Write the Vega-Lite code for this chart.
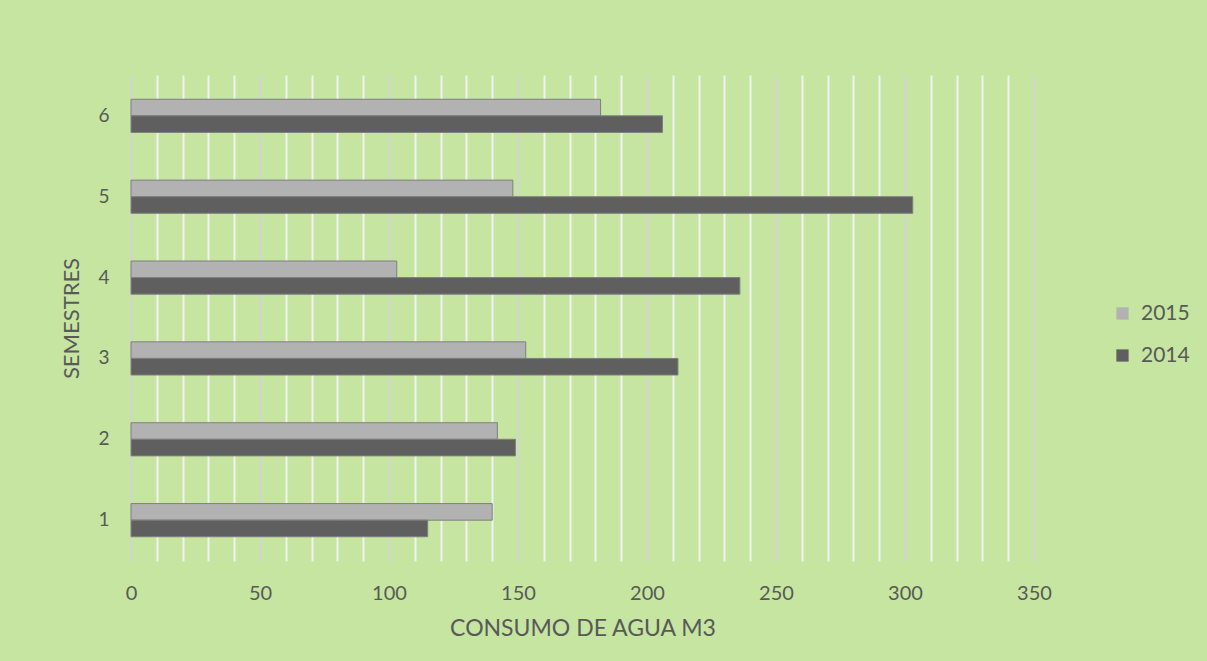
{
  "$schema": "https://vega.github.io/schema/vega-lite/v6.json",
  "width": 903,
  "height": 486,
  "autosize": "none",
  "padding": {"left": 131, "top": 75, "right": 173, "bottom": 100},
  "background": "#C5E5A0",
  "config": {
    "view": {"stroke": null},
    "font": "Lato"
  },
  "data": {
    "values": [
      {"semestre": "1", "anio": "2015", "consumo": 140},
      {"semestre": "1", "anio": "2014", "consumo": 115},
      {"semestre": "2", "anio": "2015", "consumo": 142},
      {"semestre": "2", "anio": "2014", "consumo": 149},
      {"semestre": "3", "anio": "2015", "consumo": 153},
      {"semestre": "3", "anio": "2014", "consumo": 212},
      {"semestre": "4", "anio": "2015", "consumo": 103},
      {"semestre": "4", "anio": "2014", "consumo": 236},
      {"semestre": "5", "anio": "2015", "consumo": 148},
      {"semestre": "5", "anio": "2014", "consumo": 303},
      {"semestre": "6", "anio": "2015", "consumo": 182},
      {"semestre": "6", "anio": "2014", "consumo": 206}
    ]
  },
  "mark": {"type": "bar", "stroke": "#7f7f7f", "strokeWidth": 1},
  "encoding": {
    "y": {
      "field": "semestre",
      "type": "nominal",
      "sort": ["6", "5", "4", "3", "2", "1"],
      "scale": {"paddingInner": 0.59, "paddingOuter": 0.3},
      "axis": {
        "title": "SEMESTRES",
        "titleFont": "Lato",
        "titleFontSize": 22,
        "titleFontWeight": "normal",
        "titleColor": "#595959",
        "titlePadding": 14,
        "labelFont": "Lato",
        "labelFontSize": 19,
        "labelColor": "#595959",
        "labelPadding": 22,
        "ticks": false,
        "domain": false,
        "grid": false
      }
    },
    "yOffset": {"field": "anio", "type": "nominal", "sort": ["2015", "2014"]},
    "x": {
      "field": "consumo",
      "type": "quantitative",
      "scale": {"domain": [0, 350], "nice": false},
      "axis": {
        "title": "CONSUMO DE AGUA M3",
        "titleFont": "Lato",
        "titleFontSize": 23,
        "titleFontWeight": "normal",
        "titleColor": "#595959",
        "titlePadding": 14,
        "values": [0,10,20,30,40,50,60,70,80,90,100,110,120,130,140,150,160,170,180,190,200,210,220,230,240,250,260,270,280,290,300,310,320,330,340,350],
        "labelExpr": "datum.value % 50 === 0 ? datum.label : ''",
        "labelFlush": false,
        "labelFont": "Lato",
        "labelFontSize": 20,
        "labelColor": "#595959",
        "labelPadding": 22,
        "ticks": false,
        "domain": false,
        "grid": true,
        "gridColor": {"condition": {"test": "datum.value % 50 === 0", "value": "#D4D4D4"}, "value": "#F2F2F2"},
        "gridWidth": 2
      }
    },
    "color": {
      "field": "anio",
      "type": "nominal",
      "scale": {"domain": ["2015", "2014"], "range": ["#B2B2B2", "#5F5F5F"]},
      "legend": {
        "title": null,
        "orient": "none",
        "legendX": 981,
        "legendY": 228,
        "symbolType": "square",
        "symbolSize": 150,
        "symbolStrokeWidth": 0,
        "labelFont": "Lato",
        "labelFontSize": 21,
        "labelColor": "#595959",
        "rowPadding": 20,
        "labelOffset": 8
      }
    }
  }
}
